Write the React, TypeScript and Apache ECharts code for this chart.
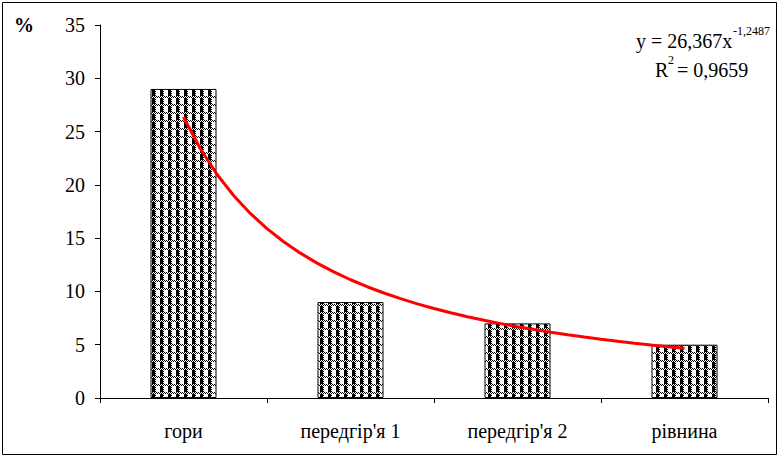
import React, { useEffect, useRef } from "react";
import * as echarts from "echarts";

const categories = ["гори", "передгір'я 1", "передгір'я 2", "рівнина"];
const values = [29, 9, 7, 5];
const yTicks = { min: 0, max: 35, interval: 5 };
const trendA = 26.367;
const trendB = -1.2487;
const trendXs = [1, 1.1, 1.2, 1.3, 1.4, 1.5, 1.6, 1.7, 1.8, 1.9, 2, 2.1, 2.2, 2.3, 2.4, 2.5, 2.6, 2.7, 2.8, 2.9, 3, 3.1, 3.2, 3.3, 3.4, 3.5, 3.6, 3.7, 3.8, 3.9, 4];

function makePattern(): HTMLCanvasElement {
  const c = document.createElement("canvas");
  c.width = 8;
  c.height = 8;
  const ctx = c.getContext("2d")!;
  ctx.fillStyle = "#fff";
  ctx.fillRect(0, 0, 8, 8);
  ctx.fillStyle = "#000";
  for (let y = 0; y < 8; y++) {
    for (let x = 0; x < 8; x++) {
      const dither = (x + y) % 2 === 0;
      let black = false;
      if (y < 2) black = dither;
      else if (x <= 2) black = true;
      else if (x === 3) black = dither;
      else black = false;
      if (black) ctx.fillRect(x, y, 1, 1);
    }
  }
  return c;
}

export default function App() {
  const ref = useRef<HTMLDivElement>(null);
  useEffect(() => {
    document.body.style.margin = "0";
    const chart = echarts.init(ref.current!, null, { renderer: "svg" });
    const font = "Liberation Serif";
    const pattern = { image: makePattern(), repeat: "repeat" };
    const trend = trendXs.map((x) => [x, trendA * Math.pow(x, trendB)]);
    const txt = (x: number, y: number, text: string, size: number, extra: any = {}) => ({
      type: "text",
      x,
      y,
      style: { text, fontFamily: font, fontSize: size, fill: "#000", textVerticalAlign: "middle", ...extra },
    });
    chart.setOption({
      animation: false,
      backgroundColor: "#fff",
      textStyle: { fontFamily: font },
      grid: { left: 100, right: 11, top: 25, bottom: 59 },
      xAxis: [
        {
          type: "category",
          data: categories,
          boundaryGap: true,
          axisLine: { lineStyle: { color: "#000", width: 1 } },
          axisTick: { show: true, inside: false, length: 5, lineStyle: { color: "#000" } },
          axisLabel: { color: "#000", fontFamily: font, fontSize: 20, margin: 23 },
          splitLine: { show: false },
        },
        {
          type: "value",
          min: 0.5,
          max: 4.5,
          show: false,
        },
      ],
      yAxis: {
        type: "value",
        min: yTicks.min,
        max: yTicks.max,
        interval: yTicks.interval,
        axisLine: { show: true, lineStyle: { color: "#000", width: 1 } },
        axisTick: { show: true, inside: false, length: 5, lineStyle: { color: "#000" } },
        axisLabel: { color: "#000", fontFamily: font, fontSize: 20, margin: 15 },
        splitLine: { show: false },
      },
      series: [
        {
          type: "bar",
          data: values,
          barWidth: 66,
          itemStyle: { color: pattern, borderColor: "#000", borderWidth: 1 },
        },
        {
          type: "line",
          xAxisIndex: 1,
          data: trend,
          showSymbol: false,
          symbol: "none",
          lineStyle: { color: "#ff0000", width: 3 },
        },
      ],
      graphic: [
        {
          type: "rect",
          shape: { x: 2.5, y: 2.5, width: 774, height: 452 },
          style: { fill: "none", stroke: "#000", lineWidth: 1 },
          silent: true,
        },
        txt(14, 25, "%", 20, { fontWeight: "bold" }),
        txt(636, 41, "y = 26,367x", 20),
        txt(733, 31, "-1,2487", 12),
        txt(655, 70, "R", 20),
        txt(668, 60, "2", 12),
        txt(677, 70, "= 0,9659", 20),
      ],
    });
    return () => chart.dispose();
  }, []);
  return <div ref={ref} style={{ position: "absolute", left: 0, top: 0, width: 779, height: 457 }} />;
}
